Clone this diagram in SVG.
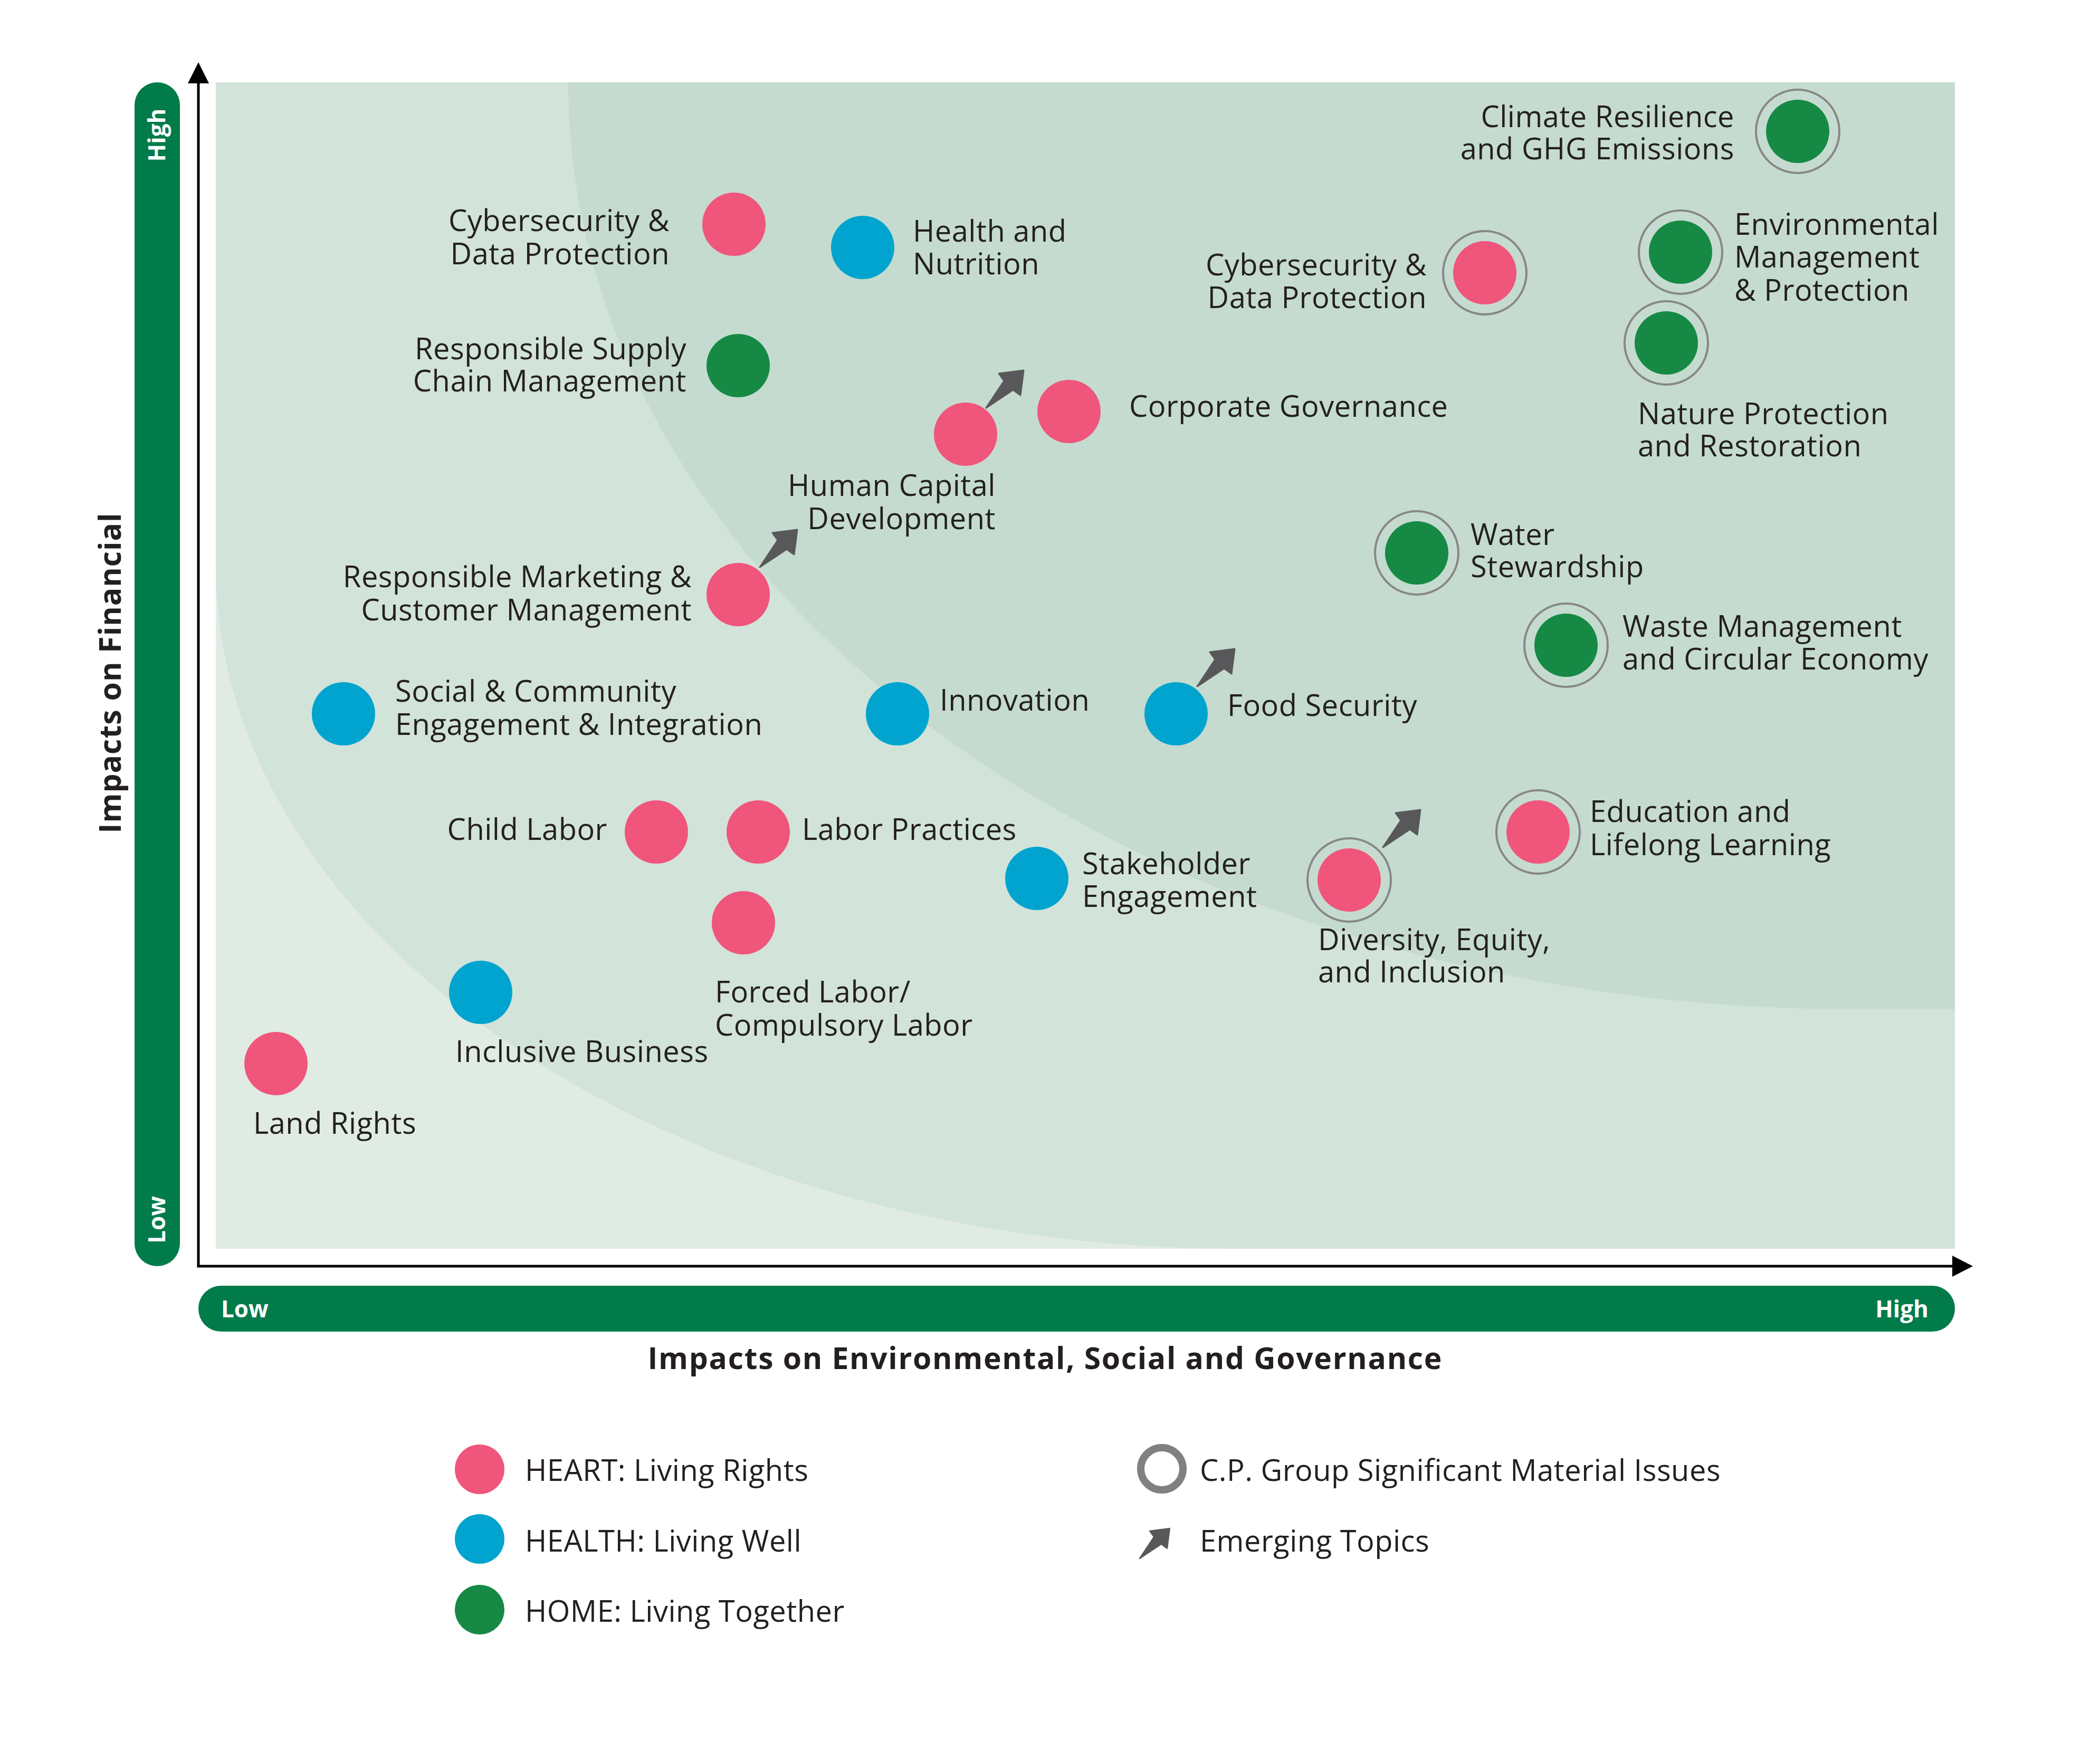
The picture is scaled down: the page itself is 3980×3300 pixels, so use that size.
<svg xmlns="http://www.w3.org/2000/svg" xmlns:xlink="http://www.w3.org/1999/xlink" width="3980" height="3300" viewBox="0 0 3980 3300">
<style>
.lbl{font-family:'Open Sans','Liberation Sans',sans-serif;font-size:56px;fill:#231f20;letter-spacing:0.5px}
.end{text-anchor:end}
.ttl{font-family:'Open Sans','Liberation Sans',sans-serif;font-size:57px;font-weight:bold;fill:#231f20}
.bar{font-family:'Open Sans','Liberation Sans',sans-serif;font-size:44px;font-weight:bold;fill:#ffffff}
.pink{fill:#F0557B}
.blue{fill:#00A4CE}
.green{fill:#168A45}
.ring{fill:none;stroke:#878787;stroke-width:4}
.emg{fill:#58585A;stroke:#58585A;stroke-width:3;stroke-linejoin:round}
.axis{stroke:#000;stroke-width:5;fill:none}
</style>
<defs>
<path id="arrow" d="M0,0 L34,-51 L24,-65 L71,-71 L65,-24 L51,-34 Z"/>
</defs>
<rect width="3980" height="3300" fill="#ffffff"/>
<g id="background">
<rect x="409" y="156" width="3296" height="2211" fill="#E0EBE4"/>
<path d="M409,156 L409,1070 C409,1786 1278,2367 2350,2367 L3705,2367 L3705,156 Z" fill="#D2E3D9"/>
<path d="M1077,156 C1077,1126 2168,1913 3513,1913 L3705,1913 L3705,156 Z" fill="#C5DBCF"/>
</g>
<g id="axes">
<rect x="255" y="156" width="86" height="2244" rx="43" fill="#027B4A"/>
<text class="bar" transform="translate(313,256) rotate(-90)" text-anchor="middle">High</text>
<text class="bar" transform="translate(313,2312) rotate(-90)" text-anchor="middle">Low</text>
<rect x="376" y="2437" width="3329" height="87" rx="43" fill="#027B4A"/>
<text class="bar" x="419" y="2497">Low</text>
<text class="bar" x="3655" y="2497" text-anchor="end">High</text>
<line class="axis" x1="376" y1="2400" x2="376" y2="150"/>
<line class="axis" x1="373.5" y1="2400" x2="3705" y2="2400"/>
<polygon points="376,118 356,158 396,158" fill="#000"/>
<polygon points="3739,2400 3700,2380 3700,2420" fill="#000"/>
<text class="ttl" x="1980" y="2595" text-anchor="middle" textLength="1505" lengthAdjust="spacing">Impacts on Environmental, Social and Governance</text>
<text class="ttl" transform="translate(229,1276) rotate(-90)" text-anchor="middle" textLength="607" lengthAdjust="spacing">Impacts on Financial</text>
</g>
<g id="connectors">
<use xlink:href="#arrow" href="#arrow" class="emg" transform="translate(1440,1075)"/>
<use xlink:href="#arrow" href="#arrow" class="emg" transform="translate(1869,773)"/>
<use xlink:href="#arrow" href="#arrow" class="emg" transform="translate(2269,1301)"/>
<use xlink:href="#arrow" href="#arrow" class="emg" transform="translate(2621,1606)"/>
</g>
<g id="node-cyber-left"><circle class="pink" cx="1391" cy="425" r="60"/><text class="lbl end" x="1269" y="438">Cybersecurity &amp;</text><text class="lbl end" x="1269" y="501">Data Protection</text></g>
<g id="node-health"><circle class="blue" cx="1635" cy="469" r="60"/><text class="lbl" x="1730" y="458">Health and</text><text class="lbl" x="1730" y="520">Nutrition</text></g>
<g id="node-supply"><circle class="green" cx="1399" cy="693" r="60"/><text class="lbl end" x="1301" y="681">Responsible Supply</text><text class="lbl end" x="1301" y="742">Chain Management</text></g>
<g id="node-human"><circle class="pink" cx="1830" cy="823" r="60"/><text class="lbl end" x="1887" y="940">Human Capital</text><text class="lbl end" x="1887" y="1003">Development</text></g>
<g id="node-corporate"><circle class="pink" cx="2026" cy="780" r="60"/><text class="lbl" x="2140" y="790">Corporate Governance</text></g>
<g id="node-marketing"><circle class="pink" cx="1399" cy="1127" r="60"/><text class="lbl end" x="1311" y="1113">Responsible Marketing &amp;</text><text class="lbl end" x="1311" y="1176">Customer Management</text></g>
<g id="node-cyber-right"><circle class="ring" cx="2814" cy="517" r="79"/><circle class="pink" cx="2814" cy="517" r="60"/><text class="lbl end" x="2704" y="522">Cybersecurity &amp;</text><text class="lbl end" x="2704" y="584">Data Protection</text></g>
<g id="node-climate"><circle class="ring" cx="3407" cy="249" r="79"/><circle class="green" cx="3407" cy="249" r="60"/><text class="lbl end" x="3287" y="241">Climate Resilience</text><text class="lbl end" x="3287" y="302">and GHG Emissions</text></g>
<g id="node-environmental"><circle class="ring" cx="3185" cy="478" r="79"/><circle class="green" cx="3185" cy="478" r="60"/><text class="lbl" x="3287" y="445">Environmental</text><text class="lbl" x="3287" y="507">Management</text><text class="lbl" x="3287" y="570">&amp; Protection</text></g>
<g id="node-nature"><circle class="ring" cx="3158" cy="650" r="79"/><circle class="green" cx="3158" cy="650" r="60"/><text class="lbl" x="3104" y="804">Nature Protection</text><text class="lbl" x="3104" y="865">and Restoration</text></g>
<g id="node-water"><circle class="ring" cx="2685" cy="1048" r="79"/><circle class="green" cx="2685" cy="1048" r="60"/><text class="lbl" x="2787" y="1033">Water</text><text class="lbl" x="2787" y="1094">Stewardship</text></g>
<g id="node-waste"><circle class="ring" cx="2968" cy="1223" r="79"/><circle class="green" cx="2968" cy="1223" r="60"/><text class="lbl" x="3075" y="1207">Waste Management</text><text class="lbl" x="3075" y="1269">and Circular Economy</text></g>
<g id="node-social"><circle class="blue" cx="651" cy="1353" r="60"/><text class="lbl" x="749" y="1330">Social &amp; Community</text><text class="lbl" x="749" y="1393">Engagement &amp; Integration</text></g>
<g id="node-innovation"><circle class="blue" cx="1701" cy="1353" r="60"/><text class="lbl" x="1781" y="1347">Innovation</text></g>
<g id="node-food"><circle class="blue" cx="2229" cy="1353" r="60"/><text class="lbl" x="2326" y="1357">Food Security</text></g>
<g id="node-child"><circle class="pink" cx="1244" cy="1577" r="60"/><text class="lbl end" x="1151" y="1592">Child Labor</text></g>
<g id="node-labor"><circle class="pink" cx="1437" cy="1577" r="60"/><text class="lbl" x="1520" y="1592">Labor Practices</text></g>
<g id="node-stakeholder"><circle class="blue" cx="1965" cy="1665" r="60"/><text class="lbl" x="2051" y="1657">Stakeholder</text><text class="lbl" x="2051" y="1719">Engagement</text></g>
<g id="node-education"><circle class="ring" cx="2915" cy="1577" r="79"/><circle class="pink" cx="2915" cy="1577" r="60"/><text class="lbl" x="3013" y="1558">Education and</text><text class="lbl" x="3013" y="1621">Lifelong Learning</text></g>
<g id="node-dei"><circle class="ring" cx="2557" cy="1668" r="79"/><circle class="pink" cx="2557" cy="1668" r="60"/><text class="lbl" x="2498" y="1801">Diversity, Equity,</text><text class="lbl" x="2498" y="1862">and Inclusion</text></g>
<g id="node-forced"><circle class="pink" cx="1409" cy="1749" r="60"/><text class="lbl" x="1355" y="1900">Forced Labor/</text><text class="lbl" x="1355" y="1963">Compulsory Labor</text></g>
<g id="node-inclusive"><circle class="blue" cx="911" cy="1881" r="60"/><text class="lbl" x="863" y="2013">Inclusive Business</text></g>
<g id="node-land"><circle class="pink" cx="523" cy="2016" r="60"/><text class="lbl" x="480" y="2149">Land Rights</text></g>
<g id="legend">
<circle class="pink" cx="909" cy="2785" r="47"/><text class="lbl" x="995" y="2807">HEART: Living Rights</text>
<circle class="blue" cx="909" cy="2917" r="47"/><text class="lbl" x="995" y="2941">HEALTH: Living Well</text>
<circle class="green" cx="909" cy="3051" r="47"/><text class="lbl" x="995" y="3074">HOME: Living Together</text>
<circle cx="2202" cy="2784" r="40" fill="none" stroke="#808080" stroke-width="14"/><text class="lbl" x="2274" y="2807">C.P. Group Significant Material Issues</text>
<use xlink:href="#arrow" href="#arrow" class="emg" transform="translate(2160,2954) scale(0.8)"/><text class="lbl" x="2274" y="2941">Emerging Topics</text>
</g>
</svg>
